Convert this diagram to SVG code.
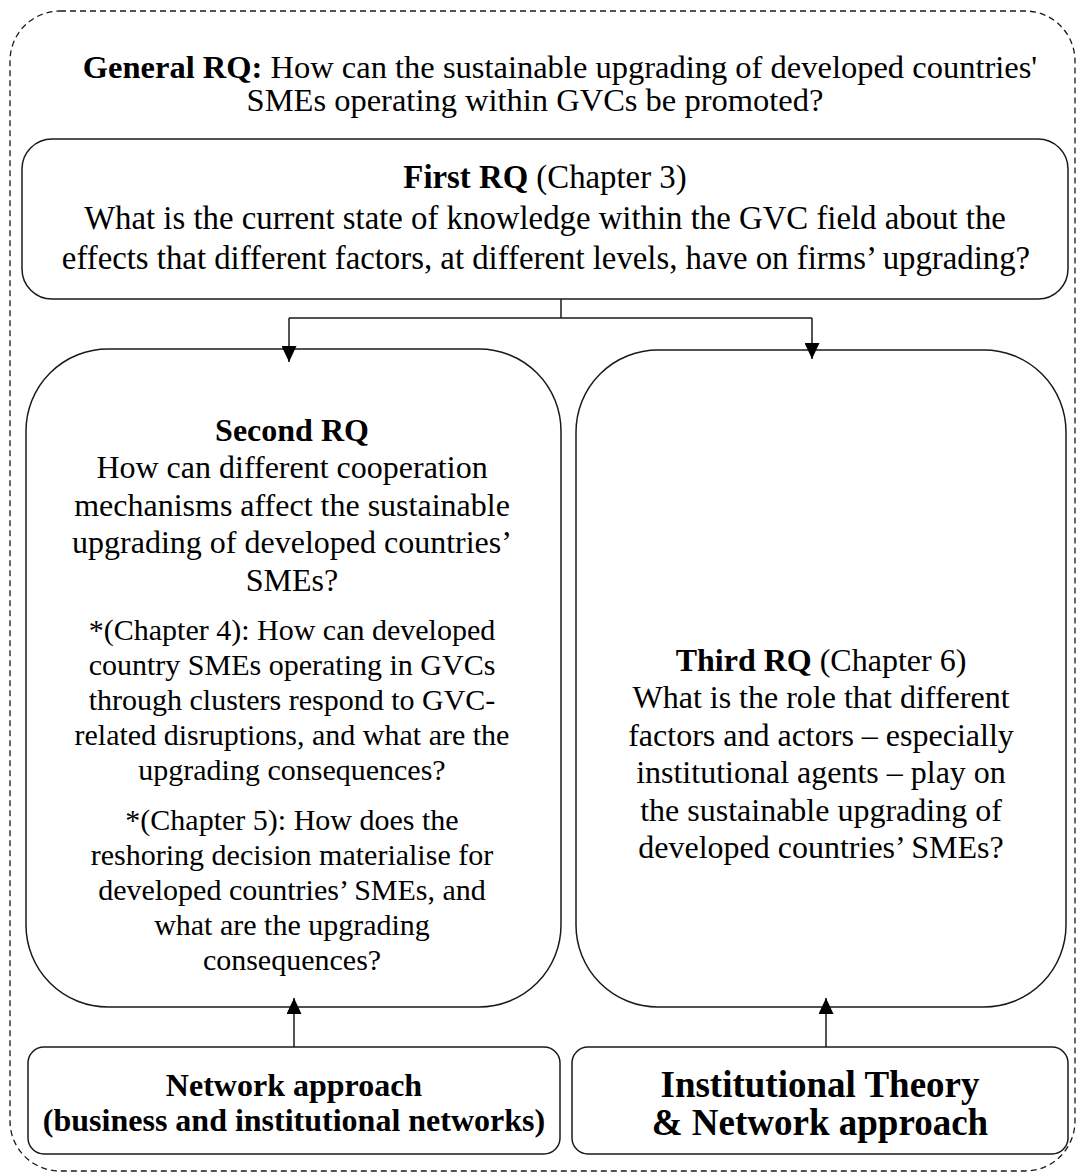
<svg xmlns="http://www.w3.org/2000/svg" width="1076" height="1173" viewBox="0 0 1076 1173">
  <defs>
    <style>
      .box { fill: #ffffff; stroke: #1a1a1a; stroke-width: 1.5; }
      .frame { fill: none; stroke: #1a1a1a; stroke-width: 1.3; stroke-dasharray: 6 4; }
      .link { fill: none; stroke: #1a1a1a; stroke-width: 1.5; }
      text { font-family: "Liberation Serif", "Times New Roman", serif; fill: #000000; text-anchor: middle; }
      .b { font-weight: bold; }
      .head { font-size: 32.5px; }
      .first { font-size: 32.8px; }
      .main { font-size: 32px; }
      .sub { font-size: 30px; }
      .lens { font-size: 32px; font-weight: bold; }
      .lens2 { font-size: 37px; font-weight: bold; }
    </style>
    <marker id="head" markerUnits="userSpaceOnUse" markerWidth="16" markerHeight="15" refX="16" refY="7.5" orient="auto">
      <path d="M0,0 L16,7.5 L0,15 Z" fill="#000000"/>
    </marker>
  </defs>

  <!-- dashed outer frame -->
  <rect class="frame" x="10" y="11" width="1065" height="1160" rx="50" ry="50"/>

  <!-- general research question -->
  <g id="general-rq">
    <text class="head" x="560" y="78"><tspan class="b">General RQ:</tspan> How can the sustainable upgrading of developed countries'</text>
    <text class="head" x="535" y="111">SMEs operating within GVCs be promoted?</text>
  </g>

  <!-- first research question -->
  <g id="first-rq">
    <rect class="box" x="22" y="139" width="1046" height="160" rx="30" ry="30"/>
    <text class="first" x="545" y="188"><tspan class="b">First RQ</tspan> (Chapter 3)</text>
    <text class="first" x="545" y="229">What is the current state of knowledge within the GVC field about the</text>
    <text class="first" x="546" y="269">effects that different factors, at different levels, have on firms’ upgrading?</text>
  </g>

  <!-- second research question -->
  <g id="second-rq">
    <rect class="box" x="26" y="349" width="535" height="658" rx="82" ry="82"/>
    <text class="main" x="292" y="441"><tspan class="b">Second RQ</tspan></text>
    <text class="main" x="292" y="478">How can different cooperation</text>
    <text class="main" x="292" y="516">mechanisms affect the sustainable</text>
    <text class="main" x="292" y="553">upgrading of developed countries’</text>
    <text class="main" x="292" y="591">SMEs?</text>
    <text class="sub" x="292" y="640">*(Chapter 4): How can developed</text>
    <text class="sub" x="292" y="675">country SMEs operating in GVCs</text>
    <text class="sub" x="292" y="710">through clusters respond to GVC-</text>
    <text class="sub" x="292" y="745">related disruptions, and what are the</text>
    <text class="sub" x="292" y="780">upgrading consequences?</text>
    <text class="sub" x="292" y="830">*(Chapter 5): How does the</text>
    <text class="sub" x="292" y="865">reshoring decision materialise for</text>
    <text class="sub" x="292" y="900">developed countries’ SMEs, and</text>
    <text class="sub" x="292" y="935">what are the upgrading</text>
    <text class="sub" x="292" y="970">consequences?</text>
  </g>

  <!-- third research question -->
  <g id="third-rq">
    <rect class="box" x="576" y="350" width="490" height="657" rx="82" ry="82"/>
    <text class="main" x="821" y="671"><tspan class="b">Third RQ</tspan> (Chapter 6)</text>
    <text class="main" x="821" y="708">What is the role that different</text>
    <text class="main" x="821" y="746">factors and actors – especially</text>
    <text class="main" x="821" y="783">institutional agents – play on</text>
    <text class="main" x="821" y="821">the sustainable upgrading of</text>
    <text class="main" x="821" y="858">developed countries’ SMEs?</text>
  </g>

  <!-- theoretical lenses -->
  <g id="network-approach">
    <rect class="box" x="28" y="1047" width="532" height="107" rx="16" ry="16"/>
    <text class="lens" x="294" y="1096">Network approach</text>
    <text class="lens" x="294" y="1131">(business and institutional networks)</text>
  </g>

  <g id="institutional-theory">
    <rect class="box" x="572" y="1047" width="496" height="107" rx="16" ry="16"/>
    <text class="lens2" x="820" y="1097">Institutional Theory</text>
    <text class="lens2" x="820" y="1135">&amp; Network approach</text>
  </g>

  <!-- connectors -->
  <g id="connectors">
    <path class="link" d="M561,299 V318 M289,318 H812"/>
    <path class="link" d="M289,318 V362" marker-end="url(#head)"/>
    <path class="link" d="M812,318 V359" marker-end="url(#head)"/>
    <path class="link" d="M294,1047 V998" marker-end="url(#head)"/>
    <path class="link" d="M826,1047 V998" marker-end="url(#head)"/>
  </g>
</svg>
